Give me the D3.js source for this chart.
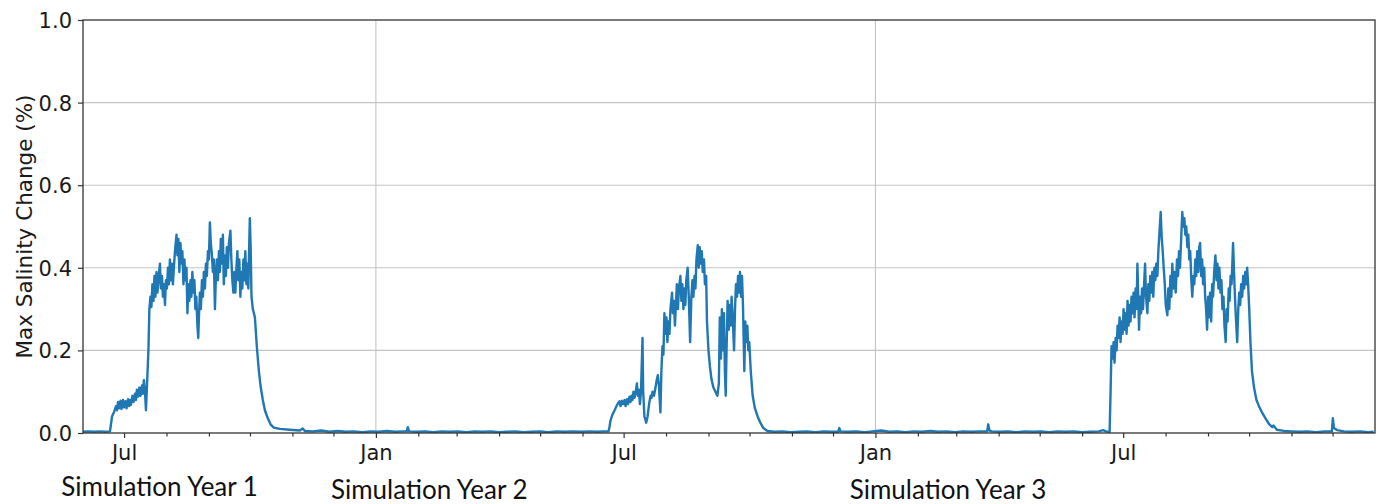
<!DOCTYPE html>
<html>
<head>
<meta charset="utf-8">
<script src="https://cdn.jsdelivr.net/npm/d3@7"></script>
<style>
  html, body { margin: 0; padding: 0; background: #ffffff; }
  svg { display: block; }
</style>
</head>
<body>
<svg id="chart" width="1381" height="504"></svg>
<script>
// Simulation timeline: day offsets counted from 1 June of simulation year 1
const startDate = Date.UTC(2001, 5, 1);
const endDate = Date.UTC(2004, 0, 1);

// [day offset, max salinity change in %] — first dry season and the quiet months after it
const season1 = [
  [0,0.003],[4,0.004],[8,0.003],[12,0.004],[16,0.003],[19.7,0.004],[20.4,0.02],[21.2,0.04],
  [22.6,0.05],[24.1,0.065],[24.8,0.055],[25.6,0.075],[26.3,0.06],[27.4,0.078],[28.1,0.058],
  [29.2,0.08],[29.9,0.062],[31.0,0.077],[31.8,0.06],[32.9,0.082],[33.6,0.065],[34.3,0.08],
  [35.0,0.068],[36.1,0.09],[36.9,0.075],[38.0,0.095],[38.7,0.08],[39.4,0.105],[40.2,0.088],
  [41.2,0.11],[42.0,0.09],[43.1,0.115],[43.8,0.095],[44.5,0.128],[45.3,0.1],[46.0,0.055],
  [46.7,0.11],[47.8,0.2],[48.5,0.3],[49.3,0.33],[50.0,0.305],[50.7,0.36],[51.5,0.32],
  [52.2,0.38],[52.9,0.33],[53.7,0.39],[54.4,0.34],[55.1,0.37],[56.2,0.41],[56.9,0.35],
  [57.7,0.38],[58.4,0.33],[59.1,0.36],[59.9,0.31],[60.6,0.37],[61.3,0.35],[62.1,0.40],
  [62.8,0.36],[63.5,0.42],[64.2,0.37],[65.0,0.41],[65.7,0.36],[66.4,0.40],[67.2,0.44],
  [68.3,0.48],[69.0,0.43],[69.7,0.47],[70.4,0.39],[71.2,0.46],[71.9,0.41],[72.6,0.44],
  [73.4,0.36],[74.1,0.42],[74.8,0.37],[75.6,0.40],[76.3,0.29],[77.0,0.36],[77.7,0.32],
  [78.5,0.37],[79.2,0.33],[79.9,0.39],[80.7,0.34],[81.4,0.37],[82.1,0.30],[82.8,0.33],
  [83.6,0.26],[84.2,0.23],[84.7,0.28],[85.4,0.34],[86.1,0.30],[86.9,0.37],[87.6,0.33],
  [88.3,0.39],[89.1,0.35],[89.8,0.41],[90.5,0.38],[91.3,0.44],[92.0,0.42],[92.7,0.51],
  [93.4,0.46],[94.2,0.43],[94.9,0.39],[95.6,0.42],[96.4,0.30],[97.1,0.38],[97.8,0.42],
  [98.6,0.37],[99.3,0.44],[100.0,0.39],[100.7,0.47],[101.5,0.41],[102.2,0.48],[102.9,0.36],
  [103.7,0.43],[104.4,0.38],[105.1,0.45],[105.9,0.40],[106.6,0.46],[107.7,0.49],[108.4,0.42],
  [109.1,0.37],[109.9,0.34],[110.6,0.39],[111.3,0.34],[112.1,0.40],[112.8,0.44],[113.5,0.37],
  [114.2,0.42],[115.0,0.33],[115.7,0.39],[116.4,0.35],[117.2,0.42],[117.9,0.37],[118.6,0.44],
  [119.4,0.36],[120.1,0.41],[120.8,0.35],[121.4,0.45],[121.9,0.52],[122.5,0.45],[123.1,0.33],
  [124.1,0.30],[125.6,0.28],[127.0,0.21],[128.5,0.15],[129.9,0.11],[131.4,0.08],[132.9,0.055],
  [135.1,0.035],[137.2,0.02],[139.4,0.013],[143.8,0.01],[151.1,0.008],[158.4,0.006],
  [160.6,0.011],[162.1,0.005],[168,0.004],[174,0.006],[180,0.003],[186,0.005],[192,0.003],
  [198,0.004],[204,0.002],[210,0.004],[216,0.003],[222,0.005],[228,0.003],[234,0.004],
  [236.5,0.004],[237.3,0.014],[238.2,0.004],[244,0.003],[250,0.004],[256,0.002],[262,0.004],
  [268,0.003],[274,0.004],[280,0.002],[286,0.004],[292,0.003],[298,0.004],[304,0.002],
  [310,0.003],[316,0.004],[322,0.002],[328,0.003],[334,0.004],[340,0.002],[346,0.004],
  [352,0.003],[358,0.004],[364,0.003],[370,0.004],[376,0.003]
];

// Second dry season and the following low period
const season2 = [
  [380,0.004],[384.0,0.004],[384.7,0.015],[385.4,0.03],[386.9,0.045],[388.4,0.055],
  [389.8,0.065],[390.9,0.072],[392.0,0.077],[392.7,0.065],[393.8,0.078],[394.6,0.07],
  [395.7,0.08],[396.4,0.065],[397.5,0.082],[398.2,0.07],[399.3,0.088],[400.0,0.075],
  [400.8,0.09],[401.5,0.08],[402.2,0.10],[402.9,0.085],[403.7,0.095],[404.7,0.12],
  [405.5,0.09],[406.2,0.105],[406.9,0.07],[407.7,0.10],[408.8,0.23],[409.3,0.10],
  [410.2,0.04],[411.5,0.025],[412.5,0.04],[413.6,0.07],[414.7,0.09],[415.4,0.085],
  [416.1,0.10],[417.2,0.09],[418.3,0.11],[419.0,0.125],[420.0,0.14],[420.8,0.115],
  [421.9,0.05],[422.6,0.15],[423.4,0.21],[424.1,0.19],[424.8,0.29],[425.6,0.24],
  [426.3,0.28],[427.0,0.22],[427.7,0.27],[428.5,0.24],[429.2,0.30],[430.4,0.34],
  [431.0,0.29],[431.7,0.32],[432.5,0.26],[433.2,0.31],[433.9,0.36],[434.7,0.30],
  [435.4,0.35],[436.5,0.38],[437.2,0.32],[437.9,0.36],[438.7,0.30],[439.4,0.35],
  [440.1,0.31],[440.8,0.37],[441.8,0.40],[442.7,0.32],[443.6,0.22],[444.5,0.33],
  [445.3,0.37],[446.0,0.33],[446.8,0.38],[447.5,0.35],[448.2,0.42],[449.2,0.455],
  [449.9,0.40],[450.6,0.45],[451.3,0.41],[452.1,0.44],[452.8,0.39],[453.7,0.42],
  [454.4,0.36],[455.3,0.38],[455.9,0.27],[457.0,0.20],[458.1,0.16],[459.2,0.13],
  [460.6,0.11],[462.1,0.10],[463.5,0.09],[464.6,0.12],[465.3,0.28],[466.1,0.18],
  [466.8,0.30],[467.5,0.20],[468.3,0.29],[469.0,0.15],[469.6,0.09],[470.2,0.20],
  [471.0,0.32],[471.8,0.25],[472.5,0.31],[473.2,0.26],[473.9,0.33],[474.7,0.28],
  [475.7,0.20],[476.4,0.30],[477.1,0.36],[477.9,0.33],[478.6,0.38],[479.3,0.34],
  [480.0,0.39],[480.8,0.33],[481.5,0.38],[482.2,0.31],[483.2,0.15],[483.9,0.27],
  [484.6,0.22],[485.4,0.26],[486.1,0.20],[486.8,0.22],[487.9,0.15],[489.3,0.09],
  [490.9,0.06],[492.9,0.04],[494.9,0.025],[497.1,0.012],[500.0,0.005],[505.2,0.003],
  [511,0.004],[517,0.002],[523,0.003],[529,0.004],[535,0.002],[541,0.004],[547,0.003],
  [551.8,0.003],[552.6,0.012],[553.4,0.004],[559,0.003],[565,0.004],[571,0.002],
  [577,0.004],[583,0.006],[589,0.003],[595,0.004],[601,0.002],[607,0.004],[613,0.003],
  [619,0.005],[625,0.003],[631,0.004],[637,0.002],[643,0.004],[649,0.003],[655,0.004],
  [660.6,0.004],[661.4,0.021],[662.3,0.006],[664,0.004],[670,0.003],[676,0.004],
  [682,0.002],[688,0.004],[694,0.003],[700,0.004],[706,0.002],[712,0.004],[718,0.003],
  [724,0.004],[730,0.002],[736,0.003]
];

// Third dry season through the end of the run
const season3 = [
  [742.4,0.004],[745.3,0.007],[747.5,0.004],[750.1,0.003],[750.8,0.10],[751.5,0.21],
  [752.3,0.18],[753.0,0.22],[753.7,0.17],[754.5,0.23],[755.2,0.20],[755.9,0.26],
  [756.6,0.23],[757.4,0.28],[758.1,0.22],[758.8,0.27],[759.6,0.24],[760.3,0.30],
  [761.0,0.25],[761.8,0.29],[762.5,0.24],[763.2,0.32],[763.9,0.26],[764.7,0.31],
  [765.4,0.27],[766.1,0.33],[766.9,0.29],[767.6,0.34],[768.3,0.28],[769.1,0.35],
  [769.8,0.30],[770.4,0.41],[771.1,0.32],[771.6,0.25],[772.3,0.33],[773.1,0.29],
  [773.8,0.35],[774.5,0.30],[775.3,0.36],[776.0,0.41],[776.7,0.33],[777.7,0.29],
  [778.4,0.36],[779.1,0.32],[779.8,0.38],[780.6,0.34],[781.3,0.39],[782.0,0.33],
  [782.8,0.40],[783.5,0.37],[784.2,0.41],[785.0,0.38],[785.7,0.44],[786.6,0.49],
  [787.4,0.535],[788.2,0.47],[788.9,0.44],[789.6,0.40],[790.4,0.36],[791.1,0.31],
  [792.3,0.285],[793.0,0.35],[793.7,0.30],[794.5,0.38],[795.2,0.33],[795.9,0.41],
  [796.7,0.35],[797.4,0.39],[798.4,0.34],[799.3,0.42],[800.1,0.38],[800.8,0.44],
  [801.5,0.40],[802.5,0.48],[803.2,0.535],[803.9,0.50],[804.7,0.52],[805.4,0.48],
  [806.1,0.50],[806.9,0.45],[807.6,0.48],[808.3,0.42],[809.0,0.44],[809.8,0.37],
  [810.5,0.33],[811.2,0.38],[812.0,0.36],[812.7,0.42],[813.4,0.38],[814.1,0.44],
  [814.9,0.39],[815.6,0.45],[816.2,0.46],[817.0,0.38],[817.7,0.42],[818.4,0.36],
  [819.2,0.40],[819.9,0.33],[820.6,0.30],[821.3,0.25],[822.1,0.33],[822.8,0.28],
  [823.5,0.34],[824.3,0.27],[825.0,0.36],[825.7,0.33],[826.5,0.39],[827.4,0.43],
  [828.2,0.37],[828.9,0.41],[829.6,0.35],[830.3,0.40],[831.1,0.34],[831.8,0.37],
  [832.5,0.30],[833.3,0.33],[834.0,0.26],[834.9,0.22],[835.6,0.30],[836.3,0.27],
  [837.1,0.35],[837.8,0.32],[838.5,0.38],[839.2,0.36],[840.3,0.46],[841.1,0.38],
  [841.8,0.32],[842.5,0.27],[843.3,0.22],[844.1,0.30],[844.8,0.34],[845.5,0.31],
  [846.2,0.36],[847.0,0.33],[847.7,0.38],[848.4,0.35],[849.2,0.39],[849.9,0.36],
  [850.6,0.40],[851.3,0.36],[852.1,0.30],[853.0,0.22],[854.1,0.15],[855.6,0.11],
  [857.4,0.08],[859.2,0.065],[861.4,0.05],[864.1,0.035],[866.5,0.022],[868.9,0.014],
  [869.8,0.018],[872.3,0.008],[877.5,0.005],[883,0.004],[889,0.003],[895,0.004],
  [901,0.002],[907,0.004],[912.5,0.004],[913.2,0.036],[914.0,0.012],[916.2,0.007],
  [921.3,0.004],[927,0.003],[933,0.004],[939,0.002],[943,0.003]
];

const yTicks = [0.0, 0.2, 0.4, 0.6, 0.8, 1.0];
const labeledMonths = [0, 6];            // Jan and Jul carry labels and the long ticks
const gridMonths = [0];                  // vertical grid at the start of each year
const yearLabels = [
  { text: "Simulation Year 1", day: 56 },
  { text: "Simulation Year 2", day: 253 },
  { text: "Simulation Year 3", day: 632 }
];
const yTitle = "Max Salinity Change (%)";

// ---- layout ----
const plot = { left: 83, right: 1375, top: 20, bottom: 433 };
const tickFont = "'DejaVu Sans', sans-serif";
const tickSize = 21;
const lineColor = "#1f77b4";

const svg = d3.select("#chart");
const dayToDate = d => new Date(startDate + d * 864e5);

const x = d3.scaleUtc().domain([new Date(startDate), new Date(endDate)]).range([plot.left, plot.right]);
const y = d3.scaleLinear().domain([0, 1]).range([plot.bottom, plot.top]);

const months = d3.utcMonth.range(new Date(startDate), new Date(endDate)).filter(d => +d > startDate);
const majorMonths = months.filter(d => labeledMonths.includes(d.getUTCMonth()));
const minorMonths = months.filter(d => !labeledMonths.includes(d.getUTCMonth()));

// grid
const grid = svg.append("g").attr("stroke", "#c4c4c4").attr("stroke-width", 1.1);
grid.selectAll("line.h").data(yTicks.filter(v => v > 0 && v < 1)).join("line")
  .attr("x1", plot.left).attr("x2", plot.right)
  .attr("y1", d => y(d)).attr("y2", d => y(d));
grid.selectAll("line.v").data(months.filter(d => gridMonths.includes(d.getUTCMonth()))).join("line")
  .attr("y1", plot.top).attr("y2", plot.bottom)
  .attr("x1", d => x(d)).attr("x2", d => x(d));

// series
const series = season1.concat(season2, season3);
svg.append("defs").append("clipPath").attr("id", "plotClip")
  .append("rect").attr("x", plot.left).attr("y", plot.top)
  .attr("width", plot.right - plot.left).attr("height", plot.bottom - plot.top);

svg.append("path")
  .datum(series)
  .attr("clip-path", "url(#plotClip)")
  .attr("fill", "none")
  .attr("stroke", lineColor)
  .attr("stroke-width", 2.4)
  .attr("stroke-linejoin", "round")
  .attr("d", d3.line().x(d => x(dayToDate(d[0]))).y(d => y(d[1])));

// x axis: minor monthly ticks, major Jan/Jul ticks with labels
const xMinor = svg.append("g").attr("transform", `translate(0,${plot.bottom})`)
  .call(d3.axisBottom(x).tickValues(minorMonths).tickSize(3.5).tickFormat(""));
const xMajor = svg.append("g").attr("transform", `translate(0,${plot.bottom})`)
  .call(d3.axisBottom(x).tickValues(majorMonths).tickSize(5).tickPadding(8).tickFormat(d3.utcFormat("%b")));
[xMinor, xMajor].forEach(g => {
  g.select(".domain").remove();
  g.selectAll(".tick line").attr("stroke", "#333").attr("stroke-width", 1.2);
});
xMajor.selectAll(".tick text")
  .attr("font-family", tickFont).attr("font-size", tickSize).attr("fill", "#1a1a1a")
  .attr("y", 27).attr("dy", 0);

// y axis
const yAxis = svg.append("g").attr("transform", `translate(${plot.left},0)`)
  .call(d3.axisLeft(y).tickValues(yTicks).tickSize(5).tickPadding(6).tickFormat(d3.format(".1f")));
yAxis.select(".domain").remove();
yAxis.selectAll(".tick line").attr("stroke", "#333").attr("stroke-width", 1.2);
yAxis.selectAll(".tick text")
  .attr("font-family", tickFont).attr("font-size", tickSize).attr("fill", "#1a1a1a")
  .attr("dy", "0.36em");

// frame
svg.append("rect")
  .attr("x", plot.left).attr("y", plot.top)
  .attr("width", plot.right - plot.left).attr("height", plot.bottom - plot.top)
  .attr("fill", "none").attr("stroke", "#333").attr("stroke-width", 1.3);

// y title
svg.append("text")
  .attr("transform", `translate(32,${(plot.top + plot.bottom) / 2}) rotate(-90)`)
  .attr("text-anchor", "middle")
  .attr("font-family", tickFont).attr("font-size", 21.5).attr("fill", "#1a1a1a")
  .text(yTitle);

// simulation year captions
svg.selectAll("text.year").data(yearLabels).join("text")
  .attr("class", "year")
  .attr("x", d => x(dayToDate(d.day)))
  .attr("y", (d, i) => i === 0 ? 496 : 499)
  .attr("text-anchor", "middle")
  .attr("font-family", "Lato, 'Open Sans', sans-serif")
  .attr("font-size", 26)
  .attr("fill", "#111")
  .text(d => d.text);
</script>
</body>
</html>
